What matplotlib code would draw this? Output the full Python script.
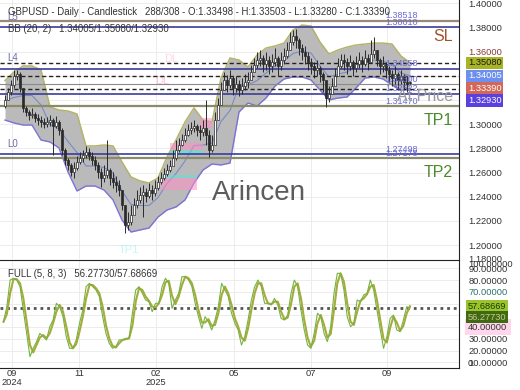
import matplotlib.pyplot as plt
import matplotlib.transforms as mtransforms
import numpy as np

plt.rcParams['font.family'] = ['Liberation Sans', 'DejaVu Sans']

# ---- price data (one entry per bar) ----
closes = [1.3200, 1.3266, 1.3324, 1.3398, 1.3414, 1.3299, 1.3134, 1.3101, 1.3076, 1.3084,
          1.3051, 1.3034, 1.3018, 1.3001, 1.3018, 1.3034, 1.2985, 1.3018, 1.2952, 1.2787,
          1.2704, 1.2663, 1.2605, 1.2638, 1.2688, 1.2721, 1.2745, 1.2770, 1.2737, 1.2704,
          1.2663, 1.2605, 1.2555, 1.2580, 1.2621, 1.2555, 1.2522, 1.2497, 1.2456, 1.2332,
          1.2167, 1.2192, 1.2250, 1.2332, 1.2374, 1.2415, 1.2440, 1.2407, 1.2456, 1.2431,
          1.2473, 1.2522, 1.2555, 1.2588, 1.2621, 1.2655, 1.2721, 1.2787, 1.2828, 1.2869,
          1.2910, 1.2952, 1.2968, 1.2985, 1.2952, 1.2935, 1.2968, 1.2910, 1.2787, 1.2828,
          1.3034, 1.3158, 1.3282, 1.3365, 1.3324, 1.3381, 1.3299, 1.3332, 1.3282, 1.3315,
          1.3348, 1.3365, 1.3431, 1.3489, 1.3530, 1.3547, 1.3497, 1.3530, 1.3481, 1.3514,
          1.3547, 1.3481, 1.3530, 1.3563, 1.3613, 1.3679, 1.3728, 1.3695, 1.3629, 1.3596,
          1.3563, 1.3514, 1.3481, 1.3448, 1.3464, 1.3414, 1.3365, 1.3216, 1.3249, 1.3315,
          1.3398, 1.3481, 1.3530, 1.3514, 1.3481, 1.3514, 1.3464, 1.3497, 1.3530, 1.3497,
          1.3547, 1.3514, 1.3580, 1.3613, 1.3530, 1.3481, 1.3497, 1.3448, 1.3414, 1.3381,
          1.3414, 1.3365, 1.3398, 1.3348, 1.3332, 1.33390]
highs = [1.3241, 1.3299, 1.3365, 1.3448, 1.3448, 1.3431, 1.3282, 1.3150, 1.3117, 1.3134,
         1.3101, 1.3084, 1.3068, 1.3051, 1.3059, 1.3076, 1.3051, 1.3068, 1.3034, 1.2968,
         1.2803, 1.2721, 1.2679, 1.2688, 1.2737, 1.2770, 1.2787, 1.2820, 1.2803, 1.2770,
         1.2737, 1.2688, 1.2638, 1.2663, 1.2869, 1.2638, 1.2605, 1.2572, 1.2539, 1.2456,
         1.2332, 1.2274, 1.2332, 1.2390, 1.2456, 1.2481, 1.2497, 1.2473, 1.2514, 1.2497,
         1.2539, 1.2572, 1.2605, 1.2638, 1.2671, 1.2704, 1.2787, 1.2869, 1.2886, 1.2919,
         1.2968, 1.3001, 1.3018, 1.3034, 1.3001, 1.2993, 1.3034, 1.3200, 1.2952, 1.2910,
         1.3101, 1.3216, 1.3348, 1.3431, 1.3406, 1.3448, 1.3398, 1.3398, 1.3365, 1.3381,
         1.3414, 1.3431, 1.3489, 1.3547, 1.3596, 1.3613, 1.3571, 1.3596, 1.3563, 1.3580,
         1.3629, 1.3563, 1.3596, 1.3629, 1.3679, 1.3761, 1.3778, 1.3786, 1.3712, 1.3662,
         1.3646, 1.3596, 1.3547, 1.3514, 1.3530, 1.3481, 1.3431, 1.3348, 1.3315, 1.3381,
         1.3464, 1.3547, 1.3580, 1.3580, 1.3547, 1.3571, 1.3530, 1.3563, 1.3596, 1.3563,
         1.3613, 1.3580, 1.3695, 1.3720, 1.3613, 1.3547, 1.3563, 1.3514, 1.3481, 1.3448,
         1.3481, 1.3431, 1.3448, 1.3414, 1.3398, 1.33503]
lows = [1.3134, 1.3200, 1.3241, 1.3299, 1.3365, 1.3266, 1.3101, 1.3068, 1.3034, 1.3051,
        1.3018, 1.2993, 1.2976, 1.2968, 1.2976, 1.2985, 1.2745, 1.2968, 1.2910, 1.2745,
        1.2663, 1.2621, 1.2572, 1.2555, 1.2621, 1.2671, 1.2688, 1.2721, 1.2704, 1.2663,
        1.2621, 1.2555, 1.2481, 1.2522, 1.2555, 1.2497, 1.2473, 1.2440, 1.2407, 1.2291,
        1.2101, 1.2126, 1.2167, 1.2274, 1.2307, 1.2349, 1.2233, 1.2357, 1.2390, 1.2374,
        1.2407, 1.2456, 1.2506, 1.2539, 1.2572, 1.2605, 1.2671, 1.2704, 1.2770, 1.2820,
        1.2853, 1.2902, 1.2919, 1.2935, 1.2902, 1.2869, 1.2902, 1.2828, 1.2729, 1.2770,
        1.2869, 1.3051, 1.3200, 1.3282, 1.3266, 1.3299, 1.3241, 1.3266, 1.3233, 1.3249,
        1.3282, 1.3299, 1.3365, 1.3431, 1.3464, 1.3481, 1.3431, 1.3448, 1.3414, 1.3431,
        1.3481, 1.3398, 1.3448, 1.3497, 1.3547, 1.3613, 1.3654, 1.3629, 1.3571, 1.3530,
        1.3497, 1.3448, 1.3414, 1.3381, 1.3398, 1.3348, 1.3266, 1.3142, 1.3183, 1.3249,
        1.3332, 1.3414, 1.3464, 1.3448, 1.3414, 1.3448, 1.3398, 1.3431, 1.3464, 1.3431,
        1.3481, 1.3448, 1.3514, 1.3547, 1.3481, 1.3414, 1.3431, 1.3381, 1.3348, 1.3315,
        1.3332, 1.3299, 1.3332, 1.3282, 1.3266, 1.33280]
first_open = 1.3150
last_open = 1.33498

# Bollinger bands (20, 2), read every 3 bars
bb_upper = [1.3360, 1.3431, 1.3481, 1.3481, 1.3448, 1.3142, 1.3117, 1.3109, 1.3084, 1.2820,
            1.2820, 1.2828, 1.2820, 1.2688, 1.2564, 1.2531, 1.2514, 1.2555, 1.2729, 1.2869,
            1.3018, 1.3134, 1.3034, 1.3018, 1.3381, 1.3547, 1.3530, 1.3472, 1.3571, 1.3629,
            1.3646, 1.3670, 1.3778, 1.3819, 1.3811, 1.3679, 1.3580, 1.3613, 1.3637, 1.3654,
            1.3662, 1.3670, 1.3670, 1.3662, 1.3563, 1.3508]
bb_lower = [1.3034, 1.3010, 1.2993, 1.2993, 1.2869, 1.2853, 1.2803, 1.2605, 1.2448, 1.2489,
            1.2489, 1.2456, 1.2374, 1.2208, 1.2109, 1.2126, 1.2142, 1.2233, 1.2291, 1.2316,
            1.2374, 1.2514, 1.2621, 1.2671, 1.2663, 1.2679, 1.3101, 1.3175, 1.3150, 1.3216,
            1.3315, 1.3373, 1.3390, 1.3390, 1.3365, 1.3282, 1.3200, 1.3216, 1.3224, 1.3299,
            1.3381, 1.3390, 1.3373, 1.3324, 1.3282, 1.3293]
bb_step = 3

# stochastic full (5, 8, 3)
stoch_k = [44.5, 57.3, 80.0, 81.5, 80.0, 74.4, 54.5, 34.6, 14.8, 21.9,
           27.6, 34.6, 31.8, 29.0, 40.3, 46.0, 60.2, 57.3, 48.8, 31.8,
           21.9, 21.9, 29.0, 43.2, 54.5, 74.4, 77.2, 74.4, 71.5, 65.9,
           48.8, 34.6, 26.1, 21.9, 23.3, 29.0, 29.0, 30.4, 30.4, 51.7,
           71.5, 74.4, 68.7, 63.0, 61.6, 53.1, 60.2, 60.2, 74.4, 81.5,
           77.2, 55.9, 63.0, 68.7, 82.9, 82.9, 80.0, 74.4, 60.2, 48.8,
           38.9, 48.8, 44.5, 37.5, 46.0, 57.3, 77.2, 71.5, 65.9, 51.7,
           43.2, 37.5, 24.7, 31.8, 46.0, 63.0, 74.4, 80.0, 74.4, 60.2,
           60.2, 58.8, 64.4, 58.8, 47.4, 46.0, 50.2, 68.7, 80.0, 74.4,
           54.5, 37.5, 24.7, 21.9, 34.6, 51.7, 48.8, 34.6, 27.6, 40.3,
           68.7, 85.7, 85.7, 71.5, 48.8, 40.3, 43.2, 63.0, 61.6, 67.3,
           68.7, 80.0, 71.5, 54.5, 37.5, 21.9, 31.8, 47.4, 50.2, 37.5,
           36.1, 46.0, 57.3, 56.2773]
stoch_d = [44.5, 50.9, 68.7, 80.8, 80.8, 77.2, 64.5, 44.6, 24.7, 18.4,
           24.8, 31.1, 33.2, 30.4, 34.7, 43.2, 53.1, 58.8, 53.1, 40.3,
           26.9, 21.9, 25.5, 36.1, 48.9, 64.5, 75.8, 75.8, 73.0, 68.7,
           57.4, 41.7, 30.4, 24.0, 22.6, 26.2, 29.0, 29.7, 30.4, 41.1,
           61.6, 73.0, 71.6, 65.9, 62.3, 57.4, 56.7, 60.2, 67.3, 78.0,
           79.4, 66.6, 59.5, 65.9, 75.8, 82.9, 81.5, 77.2, 67.3, 54.5,
           43.9, 43.9, 46.7, 41.0, 41.8, 51.7, 67.3, 74.4, 68.7, 58.8,
           47.5, 40.4, 31.1, 28.3, 38.9, 54.5, 68.7, 77.2, 77.2, 67.3,
           60.2, 59.5, 61.6, 61.6, 53.1, 46.7, 48.1, 59.5, 74.4, 77.2,
           64.5, 46.0, 31.1, 23.3, 28.3, 43.2, 50.3, 41.7, 31.1, 34.0,
           54.5, 77.2, 85.7, 78.6, 60.2, 44.6, 41.8, 53.1, 62.3, 64.5,
           68.0, 74.4, 75.8, 63.0, 46.0, 29.7, 26.9, 39.6, 48.8, 43.9,
           36.8, 41.1, 51.7, 57.68669]

# horizontal levels
blue_levels = [1.38010, 1.34558, 1.32522, 1.27498]
blue_names = ['L5', 'L4', '', 'L0']
brown_levels = [1.38518, 1.31470, 1.27178]
brown_names = ['SL', 'TP1', 'TP2']
gray_levels = [1.33300]
bb_now = [1.35080, 1.34005, 1.32930]
level_texts = ['1.38518', '1.38010', '1.34558', '1.33300', '1.32522', '1.31470', '1.27498', '1.27178']

# colored zones: start bar, end bar, low, high
zone_start = [55, 55, 52, 52, 65]
zone_end = [66, 66, 64, 64, 69]
zone_low = [1.2787, 1.2745, 1.2555, 1.2456, 1.2968]
zone_high = [1.2844, 1.2787, 1.2580, 1.2555, 1.3051]
zone_kind = ['pink', 'cyan', 'cyan', 'pink', 'pink']

month_pos = [2.3, 24.7, 50.3, 76.3, 101.9, 127.2]
month_labels = ['09\n2024', '11', '02\n2025', '05', '07', '09']

price_ticks = [1.20, 1.22, 1.24, 1.26, 1.28, 1.30, 1.32, 1.34, 1.36, 1.38, 1.40]
osc_ticks = [10, 20, 30, 40, 50, 60, 70, 80, 90]

# ---- figure ----
fig = plt.figure(figsize=(5.2, 3.9), dpi=100)
ax = fig.add_axes([0, 1 - 259 / 390, 459 / 520, 259 / 390])
ax2 = fig.add_axes([0, 22 / 390, 459 / 520, 108 / 390])

n = len(closes)
idx = np.arange(n)
c = np.array(closes)
o = np.array([first_open] + closes[:-1])
o[-1] = last_open

ax.set_xlim(-5 / 3, 151.33)
ax.set_ylim(1.1886, 1.4026)
ax2.set_xlim(-5 / 3, 151.33)
ax2.set_ylim(5.15, 97.06)

txt = '#333333'
fs = 6.7
for a in (ax, ax2):
    a.set_axisbelow(True)
    for s in ('left', 'top'):
        a.spines[s].set_visible(False)
    for s in ('right', 'bottom'):
        a.spines[s].set_color('#222222')
    a.tick_params(axis='y', left=False, labelleft=False, right=True, labelright=True,
                  length=0, pad=7, labelsize=fs, labelcolor=txt)
    a.set_xticks(month_pos)
    a.grid(True, color='#ececec', lw=0.7)
ax2.spines['top'].set_visible(True)
ax2.spines['top'].set_color('#222222')
ax.spines['bottom'].set_visible(False)
ax.tick_params(axis='x', bottom=False, labelbottom=False)
ax2.set_xticklabels(month_labels, linespacing=0.95)
ax2.tick_params(axis='x', length=0, pad=1, labelsize=6.7, labelcolor=txt)

ax.set_yticks(price_ticks)
ax.set_yticklabels(['%.5f' % v for v in price_ticks])
ax.get_yticklabels()[8].set_color('#8b3a3a')
ax2.set_yticks(osc_ticks)
ax2.set_yticklabels(['%.5f' % v for v in osc_ticks])
ax2.get_yticklabels()[6].set_color('#2f7070')

# bollinger band
bb_x = np.arange(0, n, bb_step)
up = np.array(bb_upper)
lo = np.array(bb_lower)
ax.fill_between(bb_x, lo, up, color='#bababa', lw=0, zorder=1)
ax.plot(bb_x, up, color='#b4b468', lw=1.1, zorder=2)
ax.plot(bb_x, lo, color='#7b72d8', lw=1.0, zorder=2)
ax.plot(bb_x, (up + lo) / 2, color='#7a8ac8', lw=0.8, zorder=2)

# zones
zone_color = {'pink': '#ff8fc4', 'cyan': '#4fe8d8'}
for s, e, l, h, k in zip(zone_start, zone_end, zone_low, zone_high, zone_kind):
    ax.fill_between([s, e], l, h, color=zone_color[k], alpha=0.55, lw=0, zorder=2.5)

# levels
for v in blue_levels:
    ax.axhline(v, color='#3c3c9c', lw=1.2, zorder=3)
for v in brown_levels[1:]:
    ax.axhline(v, color='#8c8a6c', lw=1.6, zorder=3)
ax.axhline(brown_levels[0], color='#9a8878', lw=1.6, zorder=3)
for v in gray_levels:
    ax.axhline(v, color='#8a8a8a', lw=0.8, zorder=3)
for v in bb_now:
    ax.axhline(v, color='#222222', lw=1.0, ls=(0, (3, 2)), zorder=3)

bt = mtransforms.blended_transform_factory(ax.transAxes, ax.transData)
for s in level_texts:
    ax.annotate(s, (385 / 459, float(s)), xycoords=bt, xytext=(0, 0.5), textcoords='offset points',
                ha='left', va='bottom', fontsize=6.5, color='#6a6ad2', zorder=7)
for v, name in zip(blue_levels, blue_names):
    if name:
        ax.annotate(name, (7 / 459, v), xycoords=bt, xytext=(0, 4), textcoords='offset points',
                    ha='left', va='bottom', fontsize=7, color='#6a6aae', zorder=7)
name_colors = ['#a0522d', '#4a8a2a', '#4a8a2a']
name_offsets = [-6, -5, -5]
for v, name, col, dy in zip(brown_levels, brown_names, name_colors, name_offsets):
    ax.annotate(name, (453 / 459, v), xycoords=bt, xytext=(0, dy),
                textcoords='offset points', ha='right', va='top', fontsize=11.5, color=col, zorder=7)
ax.annotate('At Price', (453 / 459, brown_levels[1]), xycoords=bt, xytext=(0, 1.5),
            textcoords='offset points', ha='right', va='bottom', fontsize=11.5, color='#9a9a9a', zorder=7)

# faint marks
ax.text(53, 1.3513, 'DL', fontsize=8, color='#ffb0d0', alpha=0.5, zorder=2)
ax.text(50, 1.3330, 'DL', fontsize=8, color='#ff9ac8', alpha=0.6, zorder=2)
ax.text(38, 1.1935, 'TP1', fontsize=8, color='#a0f0f0', alpha=0.6, zorder=2)

# candles
ax.vlines(idx, lows, highs, color='#2a2a2a', lw=0.7, zorder=5)
rising = c >= o
ax.bar(idx, np.maximum(np.abs(c - o), 0.0004), bottom=np.minimum(o, c), width=0.55,
       color=np.where(rising, 'white', '#2a2a2a'), edgecolor='#2a2a2a', lw=0.5, zorder=6)

ax.text(0.565, 0.255, 'Arincen', transform=ax.transAxes, ha='center', va='center',
        fontsize=20, color='#5c5c5c', zorder=8)

# value boxes on price axis
box_style = [('#a8b424', '#1a1a1a'), ('#6d8ff0', 'white'), ('#d2685a', 'white'), ('#5b40e0', 'white')]
box_vals = [bb_now[0], bb_now[1], closes[-1], bb_now[2]]
gap = 0.0102
placed = []
for v in box_vals:
    p = v if not placed else min(v, placed[-1] - gap)
    placed.append(p)
for v, p, (bg, fg) in zip(box_vals, placed, box_style):
    ax.text(468 / 459, p, '%.5f' % v, transform=bt, ha='left', va='center', fontsize=fs,
            color=fg, bbox=dict(boxstyle='square,pad=0.18', fc=bg, ec='none'), zorder=9, clip_on=False)
ax.text(468 / 459, 0, '1.18000', transform=ax.transAxes, ha='left', va='center',
        fontsize=fs, color=txt, clip_on=False)

# oscillator
kx = np.linspace(-0.5, n - 1, len(stoch_k))
ax2.plot(kx, stoch_d, color='#a8aa3a', lw=1.5, zorder=3)
ax2.plot(kx, stoch_k, color='#72b444', lw=0.8, zorder=4)
ax2.axhline(stoch_k[-1], color='#555555', lw=2.0, ls=(0, (1, 1.4)), zorder=2)

bt2 = mtransforms.blended_transform_factory(ax2.transAxes, ax2.transData)
ax2.text(468 / 459, 40, '40.00000', transform=bt2, ha='left', va='center', fontsize=fs,
         color=txt, bbox=dict(boxstyle='square,pad=0.35', fc='#ffd6ec', ec='none'), zorder=8, clip_on=False)
ax2.text(468 / 459, stoch_d[-1], '%.5f' % stoch_d[-1], transform=bt2, ha='left', va='center',
         fontsize=fs, color='#1a3a0a', bbox=dict(boxstyle='square,pad=0.18', fc='#9ac42a', ec='none'),
         zorder=9, clip_on=False)
ax2.text(468 / 459, stoch_d[-1] - 9.4, '%.5f' % stoch_k[-1], transform=bt2, ha='left', va='center',
         fontsize=fs, color='#c8c890', bbox=dict(boxstyle='square,pad=0.18', fc='#3f6a12', ec='none'),
         zorder=9, clip_on=False)
ax2.text(468 / 459, 1, '100.00000', transform=ax2.transAxes, ha='left', va='top',
         fontsize=fs, color=txt, clip_on=False)
ax2.text(468 / 459, 0, '0', transform=ax2.transAxes, ha='left', va='bottom',
         fontsize=fs, color=txt, clip_on=False)

# header texts
fig.text(8 / 520, 1 - 12 / 390,
         'GBPUSD - Daily - Candlestick   288/308 - O:%.5f - H:%.5f - L:%.5f - C:%.5f'
         % (last_open, highs[-1], lows[-1], closes[-1]),
         ha='left', va='center', fontsize=6.9, color=txt)
fig.text(8 / 520, 1 - 29 / 390, 'BB (20, 2)   %.5f/%.5f/%.5f' % (bb_now[1], bb_now[0], bb_now[2]),
         ha='left', va='center', fontsize=6.9, color=txt)
fig.text(8 / 520, 1 - 274 / 390, 'FULL (5, 8, 3)   %.5f/%.5f' % (stoch_k[-1], stoch_d[-1]),
         ha='left', va='center', fontsize=6.9, color=txt)

fig.savefig('out.png', dpi=100)
